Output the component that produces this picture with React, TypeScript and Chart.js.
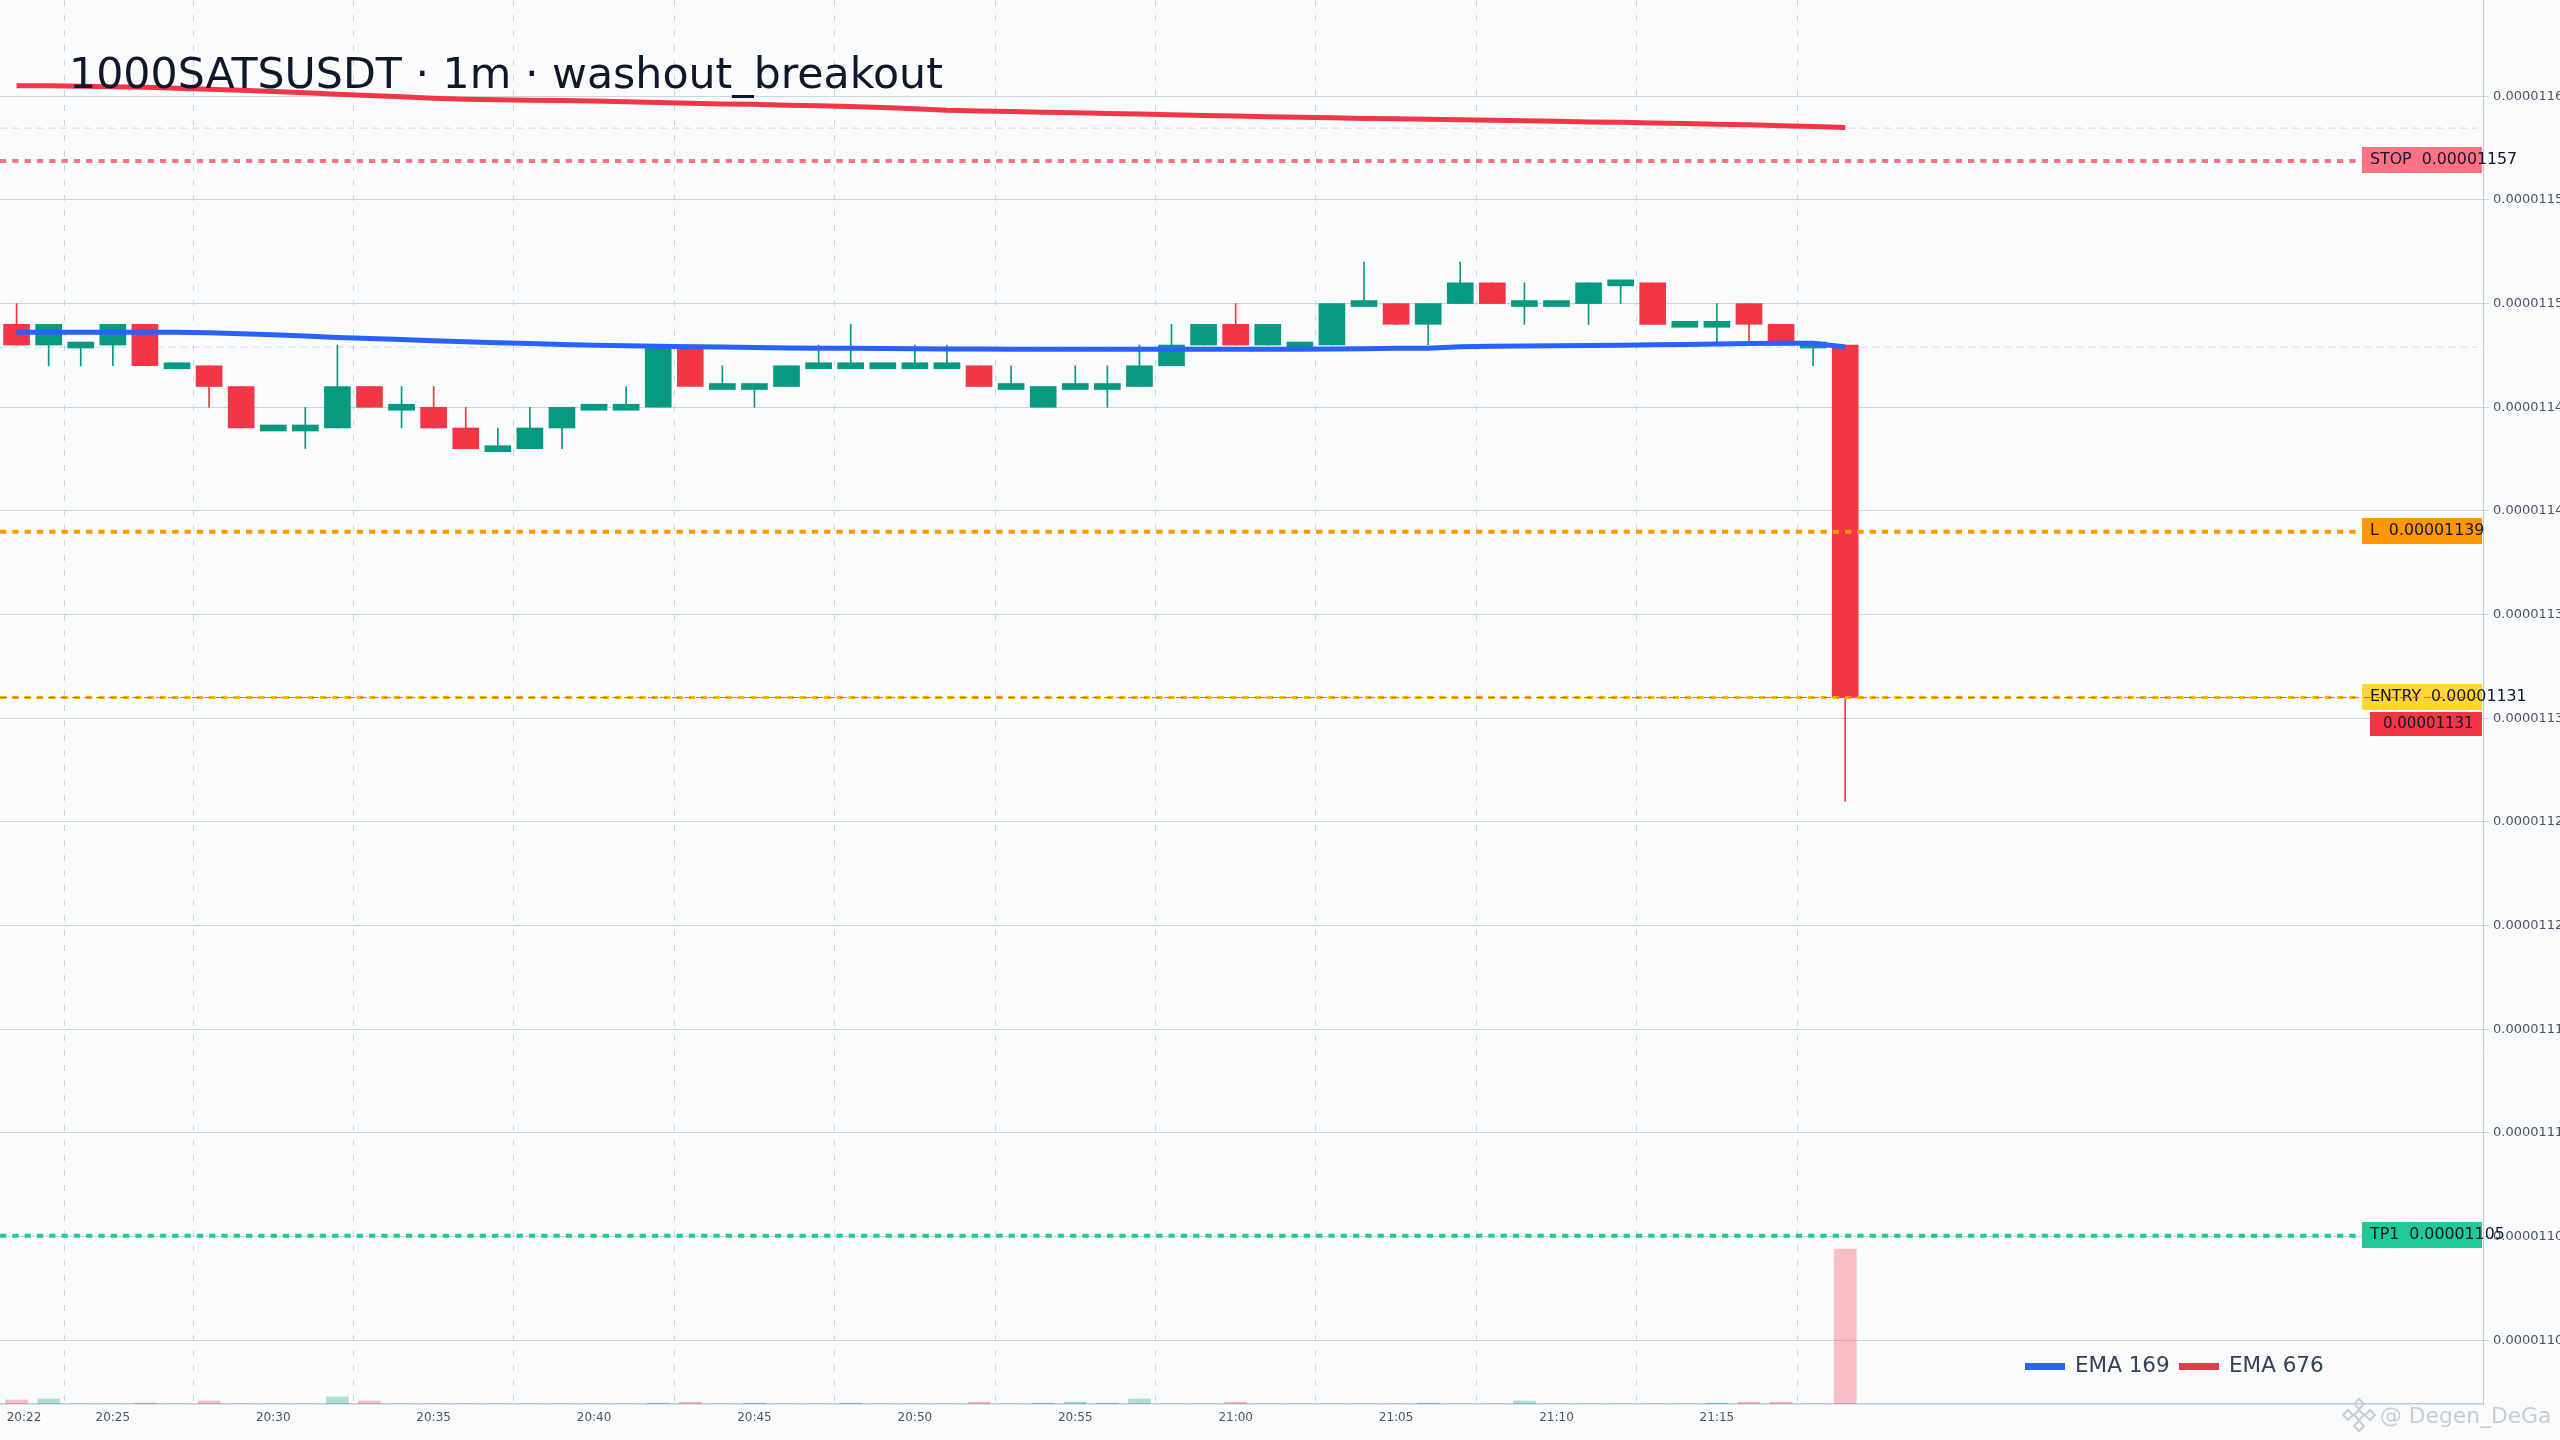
import React, { useEffect, useRef } from "react";
import { Chart, registerables } from "chart.js";

Chart.register(...registerables);

const TITLE = "1000SATSUSDT · 1m · washout_breakout";
const tickIndexes = [0, 3, 8, 13, 18, 23, 28, 33, 38, 43, 48, 53];
const tickLabels = ["20:22", "20:25", "20:30", "20:35", "20:40", "20:45", "20:50", "20:55", "21:00", "21:05", "21:10", "21:15"];
const priceTicks = [1160e-8, 1155e-8, 1150e-8, 1145e-8, 1140e-8, 1135e-8, 1130e-8, 1125e-8, 1120e-8, 1115e-8, 1110e-8, 1105e-8, 1100e-8];

const opens = [1149, 1148, 1148, 1148, 1149, 1147, 1147, 1146, 1144, 1144, 1144, 1146, 1145, 1145, 1144, 1143, 1143, 1144, 1145, 1145, 1145, 1148, 1146, 1146, 1146, 1147, 1147, 1147, 1147, 1147, 1147, 1146, 1145, 1146, 1146, 1146, 1147, 1148, 1149, 1148, 1148, 1148, 1150, 1150, 1149, 1150, 1151, 1150, 1150, 1150, 1151, 1151, 1149, 1149, 1150, 1149, 1148, 1148];
const closes = [1148, 1149, 1148, 1149, 1147, 1147, 1146, 1144, 1144, 1144, 1146, 1145, 1145, 1144, 1143, 1143, 1144, 1145, 1145, 1145, 1148, 1146, 1146, 1146, 1147, 1147, 1147, 1147, 1147, 1147, 1146, 1146, 1146, 1146, 1146, 1147, 1148, 1149, 1148, 1149, 1148, 1150, 1150, 1149, 1150, 1151, 1150, 1150, 1150, 1151, 1151, 1149, 1149, 1149, 1149, 1148, 1148, 1131];
const highs = [1150, 1149, 1148, 1149, 1149, 1147, 1147, 1146, 1144, 1145, 1148, 1146, 1146, 1146, 1145, 1144, 1145, 1145, 1145, 1146, 1148, 1148, 1147, 1146, 1147, 1148, 1149, 1147, 1148, 1148, 1147, 1147, 1146, 1147, 1147, 1148, 1149, 1149, 1150, 1149, 1148, 1150, 1152, 1150, 1150, 1152, 1151, 1151, 1150, 1151, 1151, 1151, 1149, 1150, 1150, 1149, 1148, 1148];
const lows = [1148, 1147, 1147, 1147, 1147, 1147, 1145, 1144, 1144, 1143, 1144, 1145, 1144, 1144, 1143, 1143, 1143, 1143, 1145, 1145, 1145, 1146, 1146, 1145, 1146, 1147, 1147, 1147, 1147, 1147, 1146, 1146, 1145, 1146, 1145, 1146, 1147, 1148, 1148, 1148, 1148, 1148, 1150, 1149, 1148, 1150, 1150, 1149, 1150, 1149, 1150, 1149, 1149, 1148, 1148, 1148, 1147, 1126];
const volumes = [40, 50, 0, 0, 10, 0, 30, 0, 0, 0, 70, 30, 0, 0, 0, 0, 0, 0, 0, 0, 10, 20, 0, 10, 0, 0, 10, 0, 0, 0, 20, 0, 10, 20, 10, 50, 0, 0, 20, 0, 0, 0, 0, 0, 10, 0, 0, 30, 0, 0, 0, 0, 0, 10, 20, 20, 0, 1550];
const ema169 = [1148.62, 1148.62, 1148.62, 1148.62, 1148.62, 1148.62, 1148.59, 1148.55, 1148.5, 1148.44, 1148.36, 1148.31, 1148.27, 1148.21, 1148.16, 1148.11, 1148.07, 1148.03, 1147.99, 1147.97, 1147.94, 1147.92, 1147.9, 1147.88, 1147.86, 1147.85, 1147.84, 1147.83, 1147.82, 1147.81, 1147.81, 1147.8, 1147.8, 1147.8, 1147.8, 1147.8, 1147.8, 1147.8, 1147.8, 1147.8, 1147.8, 1147.81, 1147.82, 1147.84, 1147.85, 1147.92, 1147.94, 1147.95, 1147.96, 1147.98, 1147.99, 1148.01, 1148.03, 1148.05, 1148.07, 1148.09, 1148.09, 1147.91];
const ema676 = [1160.51, 1160.5, 1160.48, 1160.46, 1160.43, 1160.39, 1160.34, 1160.29, 1160.23, 1160.17, 1160.1, 1160.04, 1159.98, 1159.9, 1159.85, 1159.83, 1159.81, 1159.79, 1159.77, 1159.73, 1159.7, 1159.66, 1159.63, 1159.61, 1159.57, 1159.54, 1159.5, 1159.46, 1159.4, 1159.32, 1159.29, 1159.26, 1159.23, 1159.2, 1159.17, 1159.14, 1159.11, 1159.07, 1159.04, 1159.01, 1158.98, 1158.96, 1158.93, 1158.91, 1158.89, 1158.87, 1158.84, 1158.82, 1158.79, 1158.76, 1158.74, 1158.71, 1158.68, 1158.65, 1158.62, 1158.58, 1158.54, 1158.49];

const EMA169_LAST = 1147.9e-8;
const EMA676_LAST = 1158.46e-8;
const LAST_PRICE = 1131e-8;
const LAST_PRICE_LABEL = "0.00001131";
const levelNames = ["STOP", "L", "ENTRY", "TP1"];
const levelValues = [1156.88e-8, 1139e-8, 1131e-8, 1105.05e-8];
const levelLabels = ["0.00001157", "0.00001139", "0.00001131", "0.00001105"];
const levelLineColors = ["#ff7285", "#ff9800", "#ffb300", "#20c997"];
const levelTagColors = ["#ff7285", "#ff9800", "#ffd633", "#20c997"];

const BG = "#f9fbfd";
const GREEN = "#089981";
const RED = "#f23645";
const BLUE = "#2962ff";
const FONT = "'DejaVu Sans'";
const X_MIN = -0.517;
const X_MAX = 76.88;
const LEVEL_END = 73.1;
const GUIDE_END = 76.7;
const xs = opens.map((_, i) => i);
const isUp = (i: number) => closes[i] >= opens[i];
const pxPrice = (v: number) => v * 1e-8;

const dojiPlugin = {
  id: "dojiBodies",
  afterDatasetsUpdate(chart: any) {
    const meta = chart.getDatasetMeta(1);
    meta.data.forEach((el: any) => {
      if (Math.abs(el.base - el.y) < 6) {
        const c = (el.base + el.y) / 2;
        el.y = c - 3;
        el.base = c + 3;
        el.height = 6;
      }
    });
  },
};

const tagsPlugin = {
  id: "priceTags",
  beforeDraw(chart: any) {
    const { ctx, width, height } = chart;
    ctx.save();
    ctx.fillStyle = BG;
    ctx.fillRect(0, 0, width, height);
    ctx.restore();
    const items = chart.scales.x.getLabelItems(chart.chartArea);
    if (items[0] && !chart.$shifted) {
      items[0].options.translation[0] += 7.4;
      chart.$shifted = true;
    }
  },
  beforeDatasetsDraw(chart: any) {
    const { ctx, scales } = chart;
    const y = scales.y;
    ctx.save();
    ctx.textBaseline = "middle";
    ctx.textAlign = "left";
    levelValues.forEach((v, i) => {
      const py = Math.round(y.getPixelForValue(v));
      ctx.fillStyle = levelTagColors[i];
      ctx.fillRect(2362, py - 14, 120, 26);
      ctx.fillStyle = "#0f172a";
      ctx.font = `15.8px ${FONT}`;
      ctx.fillText(`${levelNames[i]}  ${levelLabels[i]}`, 2370, py - 1);
    });
    const lp = Math.round(y.getPixelForValue(LAST_PRICE));
    ctx.fillStyle = RED;
    ctx.fillRect(2370, lp + 14, 112, 24);
    ctx.fillStyle = "#0f172a";
    ctx.font = `15px ${FONT}`;
    ctx.fillText(LAST_PRICE_LABEL, 2383, lp + 26);
    ctx.restore();
  },
  afterDraw(chart: any) {
    const { ctx } = chart;
    ctx.save();
    ctx.textBaseline = "alphabetic";
    ctx.textAlign = "left";
    ctx.fillStyle = "#0f172a";
    ctx.font = `42.7px ${FONT}`;
    ctx.fillText(TITLE, 69, 88);

    ctx.textBaseline = "middle";
    ctx.font = `21.5px ${FONT}`;
    ctx.fillStyle = BLUE;
    ctx.fillRect(2025, 1363, 40, 7);
    ctx.fillStyle = "#334155";
    ctx.fillText(chart.data.datasets[3].label, 2075, 1366);
    ctx.fillStyle = RED;
    ctx.fillRect(2179, 1363, 40, 7);
    ctx.fillStyle = "#334155";
    ctx.fillText(chart.data.datasets[4].label, 2229, 1366);

    ctx.font = `21.8px ${FONT}`;
    ctx.fillStyle = "#c8cdd5";
    ctx.fillText("@ Degen_DeGa", 2380, 1417);
    ctx.strokeStyle = "#c8cdd5";
    ctx.lineWidth = 2;
    const cx = 2359;
    const cy = 1415;
    [[0, -11, 5], [0, 11, 5], [-11, 0, 5], [11, 0, 5], [0, 0, 5]].forEach(([dx, dy, r]) => {
      ctx.beginPath();
      ctx.moveTo(cx + dx, cy + dy - r);
      ctx.lineTo(cx + dx + r, cy + dy);
      ctx.lineTo(cx + dx, cy + dy + r);
      ctx.lineTo(cx + dx - r, cy + dy);
      ctx.closePath();
      ctx.stroke();
    });
    ctx.restore();
  },
};

const hline = (value: number, end: number, color: string, width: number, dash: number[], order: number, label: string) => ({
  type: "line",
  label,
  data: [{ x: X_MIN, y: value }, { x: end, y: value }],
  borderColor: color,
  borderWidth: width,
  borderDash: dash,
  pointRadius: 0,
  order,
  yAxisID: "y",
});

export default function App() {
  const ref = useRef<HTMLCanvasElement>(null);
  useEffect(() => {
    document.body.style.margin = "0";
    document.body.style.background = BG;
    const config: any = {
      type: "bar",
      data: {
        datasets: [
          {
            label: "Wick",
            data: xs.map((x, i) => ({ x, y: [pxPrice(lows[i]), pxPrice(highs[i])] })),
            backgroundColor: xs.map((i) => (isUp(i) ? GREEN : RED)),
            barThickness: 1,
            grouped: false,
            order: 20,
            yAxisID: "y",
          },
          {
            label: "Body",
            data: xs.map((x, i) => ({ x, y: [pxPrice(opens[i]), pxPrice(closes[i])] })),
            backgroundColor: xs.map((i) => (isUp(i) ? GREEN : RED)),
            barThickness: 26,
            grouped: false,
            order: 15,
            yAxisID: "y",
          },
          {
            label: "Volume",
            data: xs.map((x, i) => ({ x, y: volumes[i] })),
            backgroundColor: xs.map((i) => (isUp(i) ? "rgba(8,153,129,0.3)" : "rgba(242,54,69,0.3)")),
            barThickness: 22,
            grouped: false,
            order: 30,
            yAxisID: "vol",
          },
          {
            type: "line",
            label: "EMA 169",
            data: xs.map((x, i) => ({ x, y: pxPrice(ema169[i]) })),
            borderColor: BLUE,
            borderWidth: 5,
            pointRadius: 0,
            tension: 0,
            order: 5,
            yAxisID: "y",
          },
          {
            type: "line",
            label: "EMA 676",
            data: xs.map((x, i) => ({ x, y: pxPrice(ema676[i]) })),
            borderColor: RED,
            borderWidth: 5,
            pointRadius: 0,
            tension: 0,
            order: 5,
            yAxisID: "y",
          },
          hline(EMA169_LAST, GUIDE_END, "rgba(41,98,255,0.2)", 1, [7, 5], 25, "EMA 169 last"),
          hline(EMA676_LAST, GUIDE_END, "rgba(242,54,69,0.25)", 1, [7, 5], 25, "EMA 676 last"),
          ...levelValues.map((v, i) => hline(v, LEVEL_END, levelLineColors[i], i === 2 ? 3 : 4, [6.3, 6], 8, levelNames[i])),
          hline(LAST_PRICE, GUIDE_END, "rgba(242,54,69,0.8)", 1, [7, 5], 3, "Last price"),
        ],
      },
      options: {
        animation: false,
        responsive: false,
        devicePixelRatio: 1,
        maintainAspectRatio: false,
        layout: { padding: 0 },
        plugins: { legend: { display: false }, title: { display: false }, tooltip: { enabled: false } },
        scales: {
          x: {
            type: "linear",
            offset: false,
            min: X_MIN,
            max: X_MAX,
            position: "bottom",
            afterBuildTicks: (s: any) => {
              s.ticks = tickIndexes.map((value) => ({ value }));
            },
            afterFit: (s: any) => {
              s.height = 36;
              s.paddingLeft = 0;
              s.paddingRight = 0;
            },
            grid: { color: "#cbd5e1", lineWidth: 1, drawTicks: false },
            border: { display: true, color: "#b9c9da", width: 1.5, dash: [6, 9] },
            ticks: {
              autoSkip: false,
              maxRotation: 0,
              padding: 7,
              color: "#475569",
              font: { family: FONT, size: 12 },
              callback: (v: number) => tickLabels[tickIndexes.indexOf(v)],
            },
          },
          y: {
            type: "linear",
            position: "right",
            min: 1096.93e-8,
            max: 1164.64e-8,
            afterBuildTicks: (s: any) => {
              s.ticks = priceTicks.map((value) => ({ value }));
            },
            afterFit: (s: any) => {
              s.width = 77;
              s.paddingTop = 0;
              s.paddingBottom = 0;
            },
            grid: { color: "#cbd5e1", lineWidth: 1, tickLength: 6 },
            border: { display: true, color: "#b9c9da", width: 1 },
            ticks: {
              autoSkip: false,
              padding: 4,
              color: "#475569",
              font: { family: FONT, size: 13 },
              callback: (v: number) => v.toFixed(8),
            },
          },
          vol: { type: "linear", display: false, min: 0, max: 14040 },
        },
      },
      plugins: [dojiPlugin, tagsPlugin],
    };
    const chart = new Chart(ref.current as HTMLCanvasElement, config);
    return () => chart.destroy();
  }, []);
  return (
    <canvas
      ref={ref}
      width={2560}
      height={1440}
      style={{ position: "fixed", left: 0, top: 0, width: 2560, height: 1440, display: "block" }}
    />
  );
}
